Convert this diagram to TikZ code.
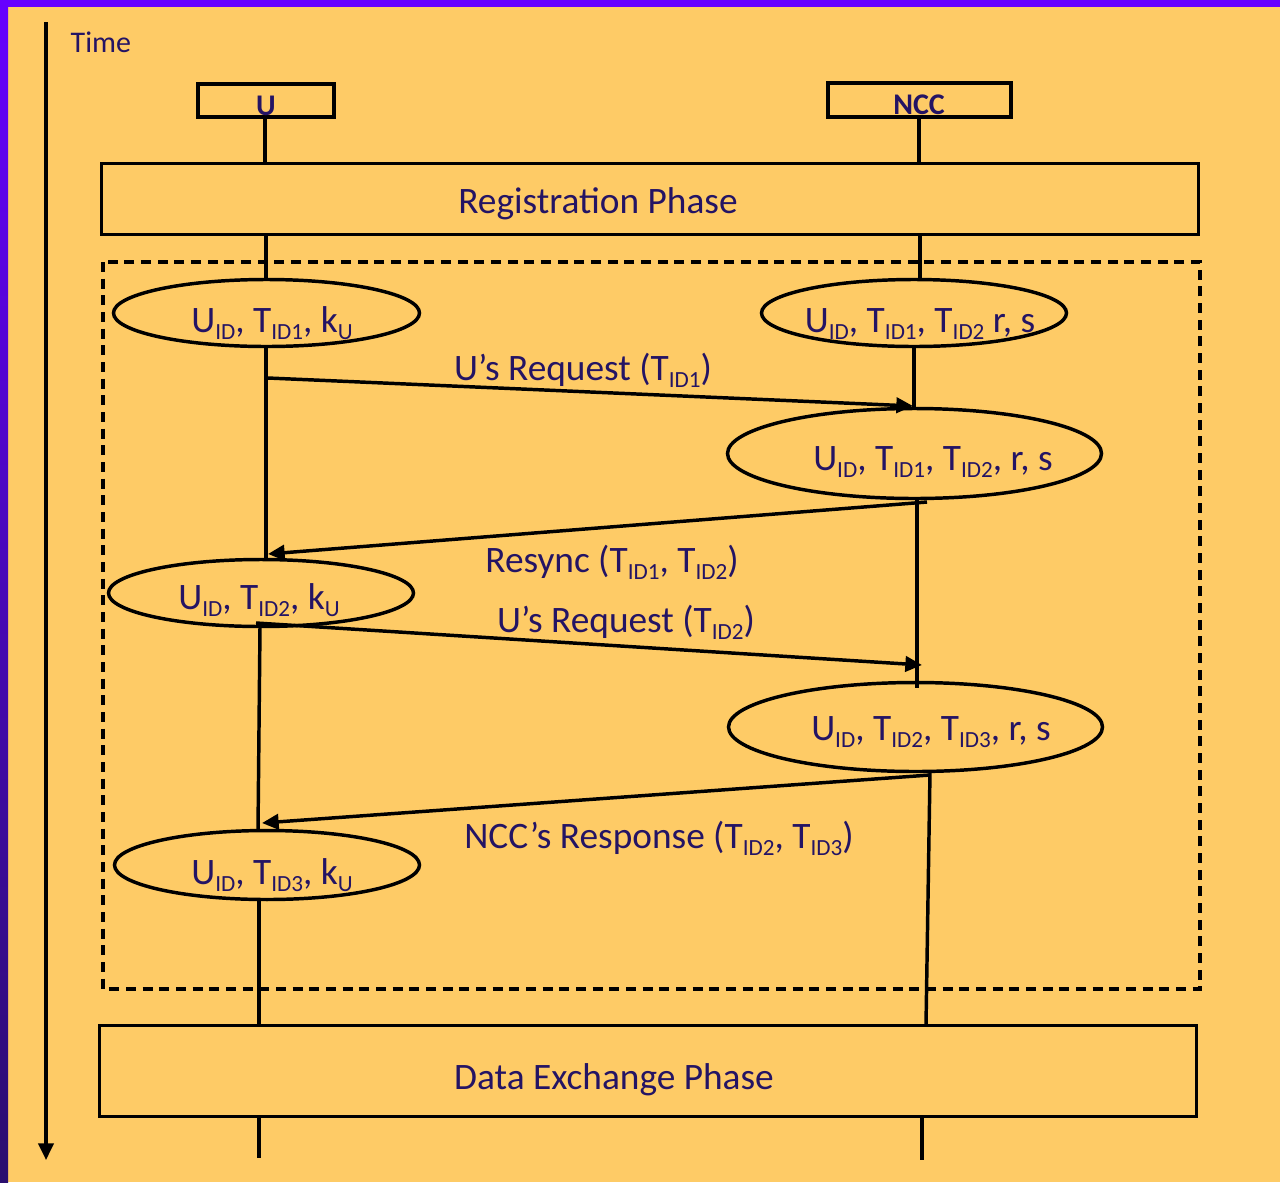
\documentclass[tikz,border=0pt]{standalone}
\usepackage{fontspec}
\usepackage{graphicx}
\setmainfont{Carlito}
\usetikzlibrary{shapes.geometric,arrows.meta}

\definecolor{bg}{RGB}{254,203,102}
\definecolor{ink}{RGB}{36,20,100}
\definecolor{vio}{RGB}{102,0,255}
\definecolor{viodark}{RGB}{42,14,110}

% lowered, reduced index text
\newcommand\sbs[1]{\raisebox{-0.21em}{\scalebox{0.62}{#1}}}

\tikzset{
  box/.style={draw, rectangle, inner sep=0pt},
  ell/.style={draw, ellipse, inner sep=0pt},
  txt/.style={text=ink, inner sep=0pt, anchor=base, font=\fontsize{28}{33}\selectfont},
  head/.style={text=ink, inner sep=0pt, anchor=base, font=\fontsize{22.5}{27}\selectfont\bfseries},
  msg/.style={-{Triangle[length=12.5pt,width=11.5pt]}},
}

\begin{document}
\begin{tikzpicture}[x=0.75pt, y=-0.75pt, line width=2.6pt]
  % page background and frame bands
  \fill[bg] (0,0) rectangle (1280,1182);
  \fill[vio] (0,0) rectangle (1280,7);
  \shade[top color=vio, bottom color=viodark] (0,0) rectangle (8,1182);
  \useasboundingbox (0,0) rectangle (1280,1182);

  % time axis
  \coordinate (t0) at (46,22);
  \coordinate (t1) at (46,1160);
  \draw[msg] (t0) -- (t1);
  \node[text=ink, inner sep=0pt, anchor=base west, font=\fontsize{22.5}{27}\selectfont] (time) at (69,52) {Time};

  % parties
  \node[box, minimum width=102pt, minimum height=24.75pt] (ubox) at (266,100.5) {};
  \node[head] (ulbl) at (266,115) {U};
  \node[box, minimum width=137.25pt, minimum height=25.5pt] (nbox) at (919.5,100) {};
  \node[head] (nlbl) at (919,114) {NCC};

  % phases
  \node[box, minimum width=823pt, minimum height=53.25pt] (reg) at (650,199) {};
  \node[txt] (regt) at (598,213) {Registration Phase};
  \node[box, minimum width=823pt, minimum height=68pt] (dep) at (648,1071) {};
  \node[txt] (dept) at (614,1089) {Data Exchange Phase};

  % resynchronisation region
  \draw[dash pattern=on 7.5pt off 5pt] (103,262) rectangle (1200,989);

  % states
  \node[ell, minimum width=229.5pt, minimum height=50.25pt] (e1) at (266.5,313) {};
  \node[txt] (e1t) at (272,332) {U\sbs{ID}, T\sbs{ID1}, k\sbs{U}};
  \node[ell, minimum width=228.75pt, minimum height=50.25pt] (n1) at (914,313) {};
  \node[txt] (n1t) at (920,332) {U\sbs{ID}, T\sbs{ID1}, T\sbs{ID2} r, s};
  \node[ell, minimum width=280.5pt, minimum height=67.5pt] (n2) at (914.5,453.5) {};
  \node[txt] (n2t) at (933,470) {U\sbs{ID}, T\sbs{ID1}, T\sbs{ID2}, r, s};
  \node[ell, minimum width=228.75pt, minimum height=50.25pt] (u2) at (261,593) {};
  \node[txt] (u2t) at (259,609) {U\sbs{ID}, T\sbs{ID2}, k\sbs{U}};
  \node[ell, minimum width=280.5pt, minimum height=66.75pt] (n3) at (915.5,727) {};
  \node[txt] (n3t) at (931,740) {U\sbs{ID}, T\sbs{ID2}, T\sbs{ID3}, r, s};
  \node[ell, minimum width=228.75pt, minimum height=51.75pt] (u3) at (267,865) {};
  \node[txt] (u3t) at (272,884) {U\sbs{ID}, T\sbs{ID3}, k\sbs{U}};

  % lifeline segments
  \coordinate (l1a) at (265,118);  \coordinate (l1b) at (265,163);
  \coordinate (l2a) at (919,118);  \coordinate (l2b) at (919,163);
  \coordinate (l3a) at (266,235);  \coordinate (l3b) at (266,280);
  \coordinate (l4a) at (920,235);  \coordinate (l4b) at (920,280);
  \coordinate (l5a) at (266,346);  \coordinate (l5b) at (266,559);
  \coordinate (l6a) at (914,346);  \coordinate (l6b) at (914,408);
  \coordinate (l7a) at (917,499);  \coordinate (l7b) at (917,688);
  \coordinate (l8a) at (260,627);  \coordinate (l8b) at (258,830);
  \coordinate (l9a) at (930,772);  \coordinate (l9b) at (926,1025);
  \coordinate (l10a) at (259,900); \coordinate (l10b) at (259,1025);
  \coordinate (l11a) at (259,1116); \coordinate (l11b) at (259,1158);
  \coordinate (l12a) at (922,1116); \coordinate (l12b) at (922,1160);
  \foreach \s in {1,...,12} \draw (l\s a) -- (l\s b);

  % messages
  \coordinate (m1a) at (268,378); \coordinate (m1b) at (913,406);
  \coordinate (m2a) at (927,502); \coordinate (m2b) at (268,554);
  \coordinate (m3a) at (256,623); \coordinate (m3b) at (922,665);
  \coordinate (m4a) at (930,775); \coordinate (m4b) at (262,823);
  \draw[msg] (m1a) -- (m1b);
  \draw[msg] (m2a) -- (m2b);
  \draw[msg] (m3a) -- (m3b);
  \draw[msg] (m4a) -- (m4b);

  \node[txt] (m1t) at (583,380) {U’s Request (T\sbs{ID1})};
  \node[txt] (m2t) at (612,572) {Resync (T\sbs{ID1}, T\sbs{ID2})};
  \node[txt] (m3t) at (626,632) {U’s Request (T\sbs{ID2})};
  \node[txt] (m4t) at (659,848) {NCC’s Response (T\sbs{ID2}, T\sbs{ID3})};
\end{tikzpicture}
\end{document}
